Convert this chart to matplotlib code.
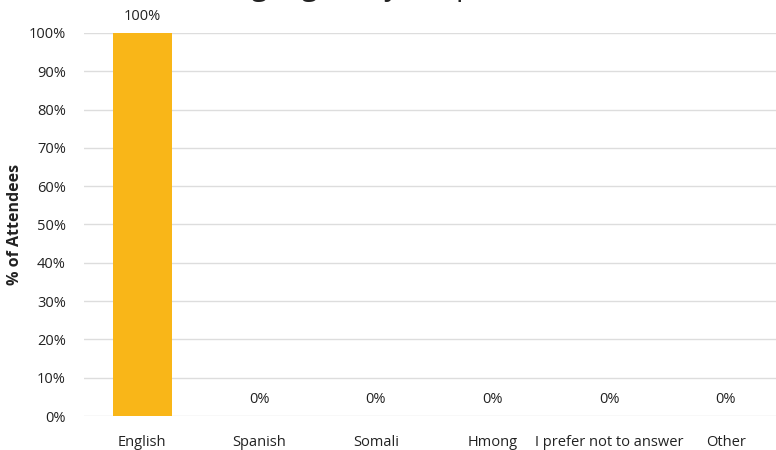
import matplotlib
matplotlib.use("Agg")
import matplotlib.pyplot as plt
from matplotlib.ticker import PercentFormatter

categories = ["English", "Spanish", "Somali", "Hmong", "I prefer not to answer", "Other"]
percents = [100, 0, 0, 0, 0, 0]
yticks = [0, 10, 20, 30, 40, 50, 60, 70, 80, 90, 100]

plt.rcParams['font.family'] = ['Open Sans', 'DejaVu Sans']

fig = plt.figure(figsize=(7.76, 4.5), dpi=100)
ax = fig.add_axes([84 / 776, 34 / 450, 692 / 776, 383 / 450])

x = range(len(categories))
ax.bar(x, percents, width=0.5, color='#F9B618', zorder=3)

for xi, v in zip(x, percents):
    ax.text(xi, v + 2.3, f"{v}%", ha='center', va='bottom', fontsize=10.5, color='#222222')

ax.set_ylim(0, 100)
ax.set_xlim(-0.5, 5.43)
ax.set_yticks(yticks)
ax.yaxis.set_major_formatter(PercentFormatter(decimals=0))
ax.set_xticks(list(x))
ax.set_xticklabels(categories)
ax.tick_params(axis='both', length=0, labelsize=10.5, colors='#222222')
ax.tick_params(axis='x', pad=14)
ax.tick_params(axis='y', pad=13)
ax.grid(axis='y', color='#DDDDDD', linewidth=1, zorder=0)
for s in ax.spines.values():
    s.set_visible(False)

ax.set_ylabel("% of Attendees", fontsize=11.5, fontweight='bold', color='#222222', labelpad=4)

# title is cropped by the top edge in the reference, only descenders show
fig.text(0.5 + 5 / 776, 1 + 5 / 450, "What language do you speak at home?", ha='center',
         va='baseline', fontsize=21, color='#222222')

fig.savefig("out.png", dpi=100)
